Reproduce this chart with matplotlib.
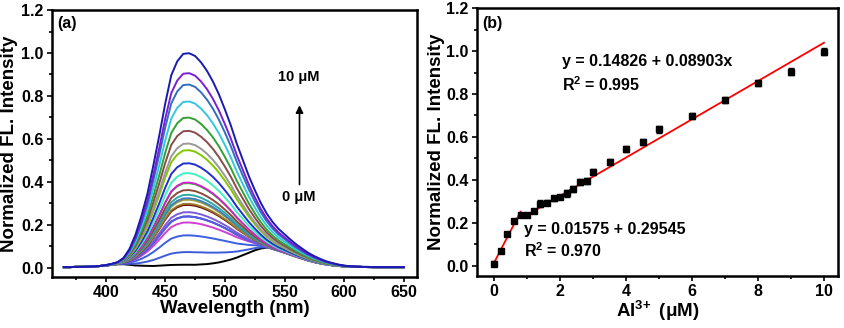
import numpy as np
import matplotlib
matplotlib.use("Agg")
import matplotlib.pyplot as plt
from matplotlib.ticker import MultipleLocator, FormatStrFormatter

plt.rcParams['font.family'] = ['Liberation Sans', 'DejaVu Sans']
plt.rcParams['font.weight'] = 'bold'
plt.rcParams['mathtext.fontset'] = 'custom'
plt.rcParams['mathtext.bf'] = 'Liberation Sans:bold'
plt.rcParams['mathtext.rm'] = 'Liberation Sans:bold'
plt.rcParams['mathtext.default'] = 'bf'

# ---- data ----
conc = [0, 0.2, 0.4, 0.6, 0.8, 1.0, 1.2, 1.4, 1.6, 1.8, 2.0, 2.2, 2.4, 2.6, 2.8, 3.0,
        3.5, 4.0, 4.5, 5, 6, 7, 8, 9, 10]
peak = [0.011, 0.070, 0.148, 0.208, 0.236, 0.236, 0.256, 0.290, 0.295, 0.314, 0.321,
        0.337, 0.359, 0.391, 0.394, 0.438, 0.484, 0.545, 0.576, 0.635, 0.697, 0.772,
        0.851, 0.904, 0.997]
err = [0.010, 0.010, 0.010, 0.010, 0.010, 0.010, 0.010, 0.015, 0.010, 0.010, 0.010,
       0.015, 0.015, 0.015, 0.015, 0.015, 0.015, 0.015, 0.015, 0.015, 0.015, 0.015,
       0.015, 0.015, 0.015]
# free ligand weight (the 535 nm band) for each spectrum
free_w = [1, 0.85, 0.65, 0.5, 0.4, 0.38, 0.34, 0.3, 0.28, 0.25, 0.22, 0.2, 0.17, 0.14,
          0.12, 0.1, 0.07, 0.05, 0.03, 0.02, 0, 0, 0, 0, 0]

wl = list(range(365, 651, 5))
# complex band (467 nm), peak normalised to 1
band = [0, 0, 0, 0, 0, 0, 0, 0.002, 0.005, 0.010, 0.030, 0.075, 0.145, 0.235, 0.340,
        0.475, 0.615, 0.765, 0.895, 0.960, 0.995, 0.998, 0.985, 0.955, 0.915, 0.865,
        0.805, 0.735, 0.660, 0.575, 0.500, 0.425, 0.360, 0.300, 0.250, 0.210, 0.178,
        0.153, 0.128, 0.105, 0.085, 0.066, 0.051, 0.038, 0.027, 0.019, 0.012, 0.007,
        0.004, 0.002, 0.001, 0.001, 0, 0, 0, 0, 0, 0]
# common baseline
base = [0.004, 0.004, 0.005, 0.005, 0.006, 0.007, 0.009, 0.011, 0.014, 0.017, 0.017,
        0.014, 0.010, 0.008, 0.006] + [0.004] * 43
# free ligand band (535 nm)
free = [0] * 23 + [0.002, 0.004, 0.008, 0.013, 0.020, 0.028, 0.038, 0.050, 0.062, 0.074,
                   0.083, 0.088, 0.090, 0.088, 0.082, 0.073, 0.063, 0.052, 0.041, 0.031,
                   0.023, 0.016, 0.011, 0.007, 0.005, 0.003, 0.002, 0.001] + [0] * 7

colors = ['black', '#3d5bd9', '#3b5fe0', '#d040d0', '#2a3fd0', '#5a5ae0', '#7a5cd6',
          '#6b0000', '#9a7a2a', '#a0a030', '#3f7fc0', '#2fa8a8', '#8a4b3a', '#22e022',
          '#d020d0', '#40f0c0', '#1f2fd0', '#80c800', '#999999', '#8b4a4a', '#33a033',
          '#33c8e0', '#2f6fc0', '#7b1fd0', '#1a1ab0']

fit1 = (0.01575, 0.29545, 0, 0.8)
fit2 = (0.14826, 0.08903, 1.0, 10)

fig = plt.figure(figsize=(8.45, 3.28), dpi=100)
ax1 = fig.add_axes([0.0615, 0.1555, 0.432, 0.814])
ax2 = fig.add_axes([0.5645, 0.1585, 0.427, 0.817])

# ---- (a) spectra ----
wl_a = np.array(wl)
for i in range(len(conc)):
    y = peak[i] * np.array(band) + np.array(base) + free_w[i] * np.array(free)
    ax1.plot(wl_a, y, color=colors[i], lw=1.4)

ax1.set_xlim(355, 661)
ax1.set_ylim(-0.042, 1.2)
ax1.xaxis.set_major_locator(MultipleLocator(50))
ax1.xaxis.set_minor_locator(MultipleLocator(25))
ax1.set_xlabel("Wavelength (nm)", fontsize=13.5, fontweight='bold', labelpad=0)
ax1.set_ylabel("Normalized FL. Intensity", fontsize=13.5, fontweight='bold', labelpad=2)
ax1.text(0.014, 0.95, "(a)", transform=ax1.transAxes, fontsize=11.5, fontweight='bold',
         va='center')
ax1.annotate("", xy=(562.5, 0.77), xytext=(562.5, 0.375),
             arrowprops=dict(arrowstyle='-|>', color='black', lw=1.2, mutation_scale=11))
ax1.text(562, 0.888, "10 μM", fontsize=10.5, fontweight='bold', ha='center', va='center')
ax1.text(562, 0.33, "0 μM", fontsize=10.5, fontweight='bold', ha='center', va='center')

# ---- (b) calibration ----
ax2.errorbar(conc, peak, yerr=err, fmt='s', color='black', ms=4, capsize=2,
             elinewidth=1, capthick=1)
for a, b, x0, x1 in [fit1, fit2]:
    ax2.plot([x0, x1], [a + b * x0, a + b * x1], color='red', lw=1.3)

ax2.set_xlim(-0.52, 10.42)
ax2.set_ylim(-0.047, 1.2)
ax2.xaxis.set_major_locator(MultipleLocator(2))
ax2.xaxis.set_minor_locator(MultipleLocator(1))
ax2.set_xlabel(r"Al$^{3\!+}$ (μM)", fontsize=13.5, fontweight='bold', labelpad=0)
ax2.set_ylabel("Normalized FL. Intensity", fontsize=13.5, fontweight='bold', labelpad=1)
ax2.text(0.014, 0.944, "(b)", transform=ax2.transAxes, fontsize=11.5, fontweight='bold',
         va='center')
ax2.text(2.05, 0.95, "y = 0.14826 + 0.08903x", fontsize=11.5, fontweight='bold', va='center')
ax2.text(2.05, 0.842, "R$^2$ = 0.995", fontsize=11.5, fontweight='bold', va='center')
ax2.text(0.91, 0.171, "y = 0.01575 + 0.29545", fontsize=11.5, fontweight='bold', va='center')
ax2.text(0.91, 0.071, "R$^2$ = 0.970", fontsize=11.5, fontweight='bold', va='center')

for ax in (ax1, ax2):
    ax.yaxis.set_major_locator(MultipleLocator(0.2))
    ax.yaxis.set_minor_locator(MultipleLocator(0.1))
    ax.yaxis.set_major_formatter(FormatStrFormatter('%.1f'))
    for s in ax.spines.values():
        s.set_linewidth(1.8)
    ax.tick_params(which='major', direction='out', length=3.5, width=1.2, labelsize=11.5,
                   pad=2.5)
    ax.tick_params(which='minor', direction='out', length=2.2, width=1.2)
    for lab in ax.get_xticklabels() + ax.get_yticklabels():
        lab.set_fontweight('bold')

fig.savefig("out.png", dpi=100)
